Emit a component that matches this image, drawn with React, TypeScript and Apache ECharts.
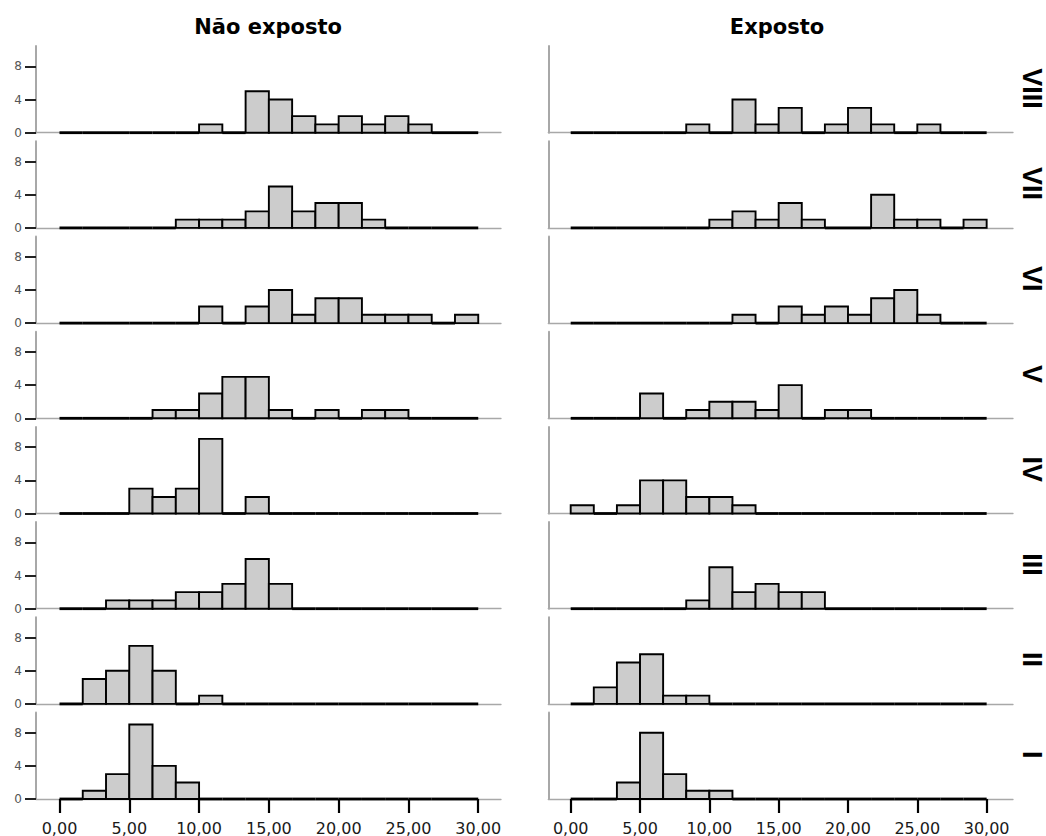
import React, { useEffect, useRef } from "react";
import * as echarts from "echarts";

// Histogram definition: 18 bins of equal width from 0 to 30
const BIN_COUNT = 18;
const X_MIN = 0;
const X_MAX = 30;
const X_TICKS = [0, 5, 10, 15, 20, 25, 30];
const Y_TICKS = [0, 4, 8];
const Y_MAX = 10.45;

const ROW_LABELS = ["VIII", "VII", "VI", "V", "IV", "III", "II", "I"];
const COLUMN_TITLES = ["Não exposto", "Exposto"];

// Counts per bin — "Não exposto"
const naoExpostoVIII = [0, 0, 0, 0, 0, 0, 1, 0, 5, 4, 2, 1, 2, 1, 2, 1, 0, 0];
const naoExpostoVII = [0, 0, 0, 0, 0, 1, 1, 1, 2, 5, 2, 3, 3, 1, 0, 0, 0, 0];
const naoExpostoVI = [0, 0, 0, 0, 0, 0, 2, 0, 2, 4, 1, 3, 3, 1, 1, 1, 0, 1];
const naoExpostoV = [0, 0, 0, 0, 1, 1, 3, 5, 5, 1, 0, 1, 0, 1, 1, 0, 0, 0];
const naoExpostoIV = [0, 0, 0, 3, 2, 3, 9, 0, 2, 0, 0, 0, 0, 0, 0, 0, 0, 0];
const naoExpostoIII = [0, 0, 1, 1, 1, 2, 2, 3, 6, 3, 0, 0, 0, 0, 0, 0, 0, 0];
const naoExpostoII = [0, 3, 4, 7, 4, 0, 1, 0, 0, 0, 0, 0, 0, 0, 0, 0, 0, 0];
const naoExpostoI = [0, 1, 3, 9, 4, 2, 0, 0, 0, 0, 0, 0, 0, 0, 0, 0, 0, 0];

// Counts per bin — "Exposto"
const expostoVIII = [0, 0, 0, 0, 0, 1, 0, 4, 1, 3, 0, 1, 3, 1, 0, 1, 0, 0];
const expostoVII = [0, 0, 0, 0, 0, 0, 1, 2, 1, 3, 1, 0, 0, 4, 1, 1, 0, 1];
const expostoVI = [0, 0, 0, 0, 0, 0, 0, 1, 0, 2, 1, 2, 1, 3, 4, 1, 0, 0];
const expostoV = [0, 0, 0, 3, 0, 1, 2, 2, 1, 4, 0, 1, 1, 0, 0, 0, 0, 0];
const expostoIV = [1, 0, 1, 4, 4, 2, 2, 1, 0, 0, 0, 0, 0, 0, 0, 0, 0, 0];
const expostoIII = [0, 0, 0, 0, 0, 1, 5, 2, 3, 2, 2, 0, 0, 0, 0, 0, 0, 0];
const expostoII = [0, 2, 5, 6, 1, 1, 0, 0, 0, 0, 0, 0, 0, 0, 0, 0, 0, 0];
const expostoI = [0, 0, 2, 8, 3, 1, 1, 0, 0, 0, 0, 0, 0, 0, 0, 0, 0, 0];

const NAO_EXPOSTO = [
  naoExpostoVIII, naoExpostoVII, naoExpostoVI, naoExpostoV,
  naoExpostoIV, naoExpostoIII, naoExpostoII, naoExpostoI,
];
const EXPOSTO = [
  expostoVIII, expostoVII, expostoVI, expostoV,
  expostoIV, expostoIII, expostoII, expostoI,
];

// Layout
const BASE0 = 132.7;
const PITCH = 95.2;
const PANEL_H = 86.6;
const COLS = [
  { left: 36, width: 465, min: -1.683, max: 31.63, titleX: 268 },
  { left: 548.3, width: 464.7, min: -1.615, max: 31.9, titleX: 777 },
];

function binData(counts: number[]) {
  const w = (X_MAX - X_MIN) / BIN_COUNT;
  return counts.map((c, i) => [X_MIN + i * w, X_MIN + (i + 1) * w, c]);
}

const fmt = (v: number) => v.toFixed(2).replace(".", ",");

export default function App() {
  const ref = useRef<HTMLDivElement>(null);

  useEffect(() => {
    document.body.style.margin = "0";
    if (!ref.current) return;
    const chart = echarts.init(ref.current, null, { renderer: "svg" });

    const grids: any[] = [];
    const xAxes: any[] = [];
    const yAxes: any[] = [];
    const series: any[] = [];
    const graphics: any[] = [];

    [NAO_EXPOSTO, EXPOSTO].forEach((group, c) => {
      const col = COLS[c];
      group.forEach((counts, r) => {
        const idx = grids.length;
        const base = BASE0 + r * PITCH;
        const isBottom = r === ROW_LABELS.length - 1;
        grids.push({
          left: col.left,
          top: base - PANEL_H,
          width: col.width,
          height: PANEL_H,
        });
        xAxes.push({
          gridIndex: idx,
          type: "value",
          min: col.min,
          max: col.max,
          axisLine: { show: true, onZero: false, lineStyle: { color: "#a8a8a8", width: 1.3 } },
          axisTick: {
            show: isBottom,
            customValues: X_TICKS,
            length: 14,
            lineStyle: { color: "#000", width: 2.2 },
          },
          axisLabel: {
            show: isBottom,
            customValues: X_TICKS,
            formatter: (v: number) => fmt(v),
            fontFamily: "DejaVu Sans",
            fontSize: 16,
            color: "#1a1a1a",
            margin: 21,
          },
          splitLine: { show: false },
        });
        yAxes.push({
          gridIndex: idx,
          type: "value",
          min: 0,
          max: Y_MAX,
          axisLine: { show: true, onZero: false, lineStyle: { color: "#a8a8a8", width: 2 } },
          axisTick: {
            show: c === 0,
            customValues: Y_TICKS,
            length: 11,
            lineStyle: { color: "#222", width: 2 },
          },
          axisLabel: {
            show: c === 0,
            customValues: Y_TICKS,
            fontFamily: "DejaVu Sans",
            fontSize: 12,
            color: "#555",
            margin: 14,
          },
          splitLine: { show: false },
        });
        series.push({
          type: "custom",
          xAxisIndex: idx,
          yAxisIndex: idx,
          data: binData(counts),
          encode: { x: [0, 1], y: 2 },
          renderItem: (params: any, api: any) => {
            const x0 = api.value(0);
            const x1 = api.value(1);
            const v = api.value(2);
            const p0 = api.coord([x0, 0]);
            const p1 = api.coord([x1, v]);
            if (!v) {
              return {
                type: "line",
                shape: { x1: p0[0], y1: p0[1], x2: p1[0], y2: p0[1] },
                style: { stroke: "#000", lineWidth: 2.8 },
              };
            }
            return {
              type: "rect",
              shape: {
                x: p0[0],
                y: p1[1],
                width: p1[0] - p0[0],
                height: p0[1] - p1[1],
              },
              style: { fill: "#cccccc", stroke: "#000", lineWidth: 1.9 },
            };
          },
        });
      });

      graphics.push({
        type: "text",
        x: col.titleX,
        y: 27,
        style: {
          text: COLUMN_TITLES[c],
          fontFamily: "DejaVu Sans",
          fontWeight: "bold",
          fontSize: 21,
          fill: "#000",
          textAlign: "center",
          textVerticalAlign: "middle",
        },
      });
    });

    ROW_LABELS.forEach((label, r) => {
      const base = BASE0 + r * PITCH;
      graphics.push({
        type: "text",
        x: 1032,
        y: base - PANEL_H / 2 - 1,
        rotation: -Math.PI / 2,
        style: {
          text: label,
          fontFamily: "Liberation Sans Narrow, Liberation Sans, Arial, sans-serif",
          fontWeight: "bold",
          fontSize: 27,
          fill: "#000",
          textAlign: "center",
          textVerticalAlign: "middle",
        },
      });
    });

    chart.setOption({
      animation: false,
      backgroundColor: "#fff",
      grid: grids,
      xAxis: xAxes,
      yAxis: yAxes,
      series,
      graphic: graphics,
    });

    return () => chart.dispose();
  }, []);

  return (
    <div
      ref={ref}
      style={{ position: "absolute", left: 0, top: 0, width: 1046, height: 836 }}
    />
  );
}
